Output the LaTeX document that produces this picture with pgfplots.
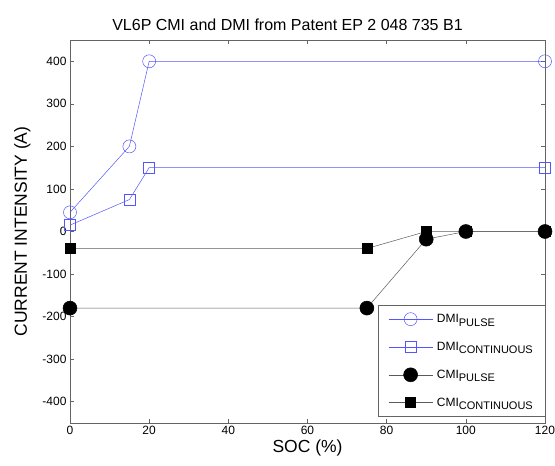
\documentclass[border=0pt]{standalone}
\usepackage{pgfplots}
\pgfplotsset{compat=1.18}
\usepackage{fontspec}
\setmainfont{Liberation Sans}
\definecolor{dmiblue}{RGB}{85,85,255}
\definecolor{axisgray}{RGB}{100,100,100}
\definecolor{cmiline}{RGB}{90,90,90}
% subscript set almost at full size and slightly lowered
\newcommand{\sub}[1]{\raisebox{-3.5pt}{\fontsize{11}{13}\selectfont #1}}

\begin{document}
\begin{tikzpicture}[x=1pt,y=1pt]
\begin{axis}[
  at={(0,0)}, anchor=south west,
  scale only axis, width=475pt, height=383pt,
  xmin=0, xmax=120, ymin=-450, ymax=450,
  xtick={0,20,...,120}, ytick={-400,-300,...,400},
  tick align=inside, major tick length=4pt,
  axis line style={axisgray, line width=0.6pt},
  tick style={axisgray, line width=0.5pt},
  ticklabel style={font=\fontsize{12}{14}\selectfont},
  /pgf/number format/assume math mode=true,
  title={VL6P CMI and DMI from Patent EP 2 048 735 B1},
  title style={font=\fontsize{16}{18}\selectfont, xshift=-20pt},
  xlabel={SOC (\%)}, ylabel={CURRENT INTENSITY (A)},
  label style={font=\fontsize{17.5}{20}\selectfont},
  xlabel style={yshift=2pt},
  ylabel style={yshift=5pt},
  legend cell align=left,
  legend style={at={(1,0.016)}, anchor=south east, draw=axisgray,
    font=\fontsize{12}{14}\selectfont, row sep=14pt,
    inner xsep=10pt, inner ysep=7pt,
    nodes={inner sep=2pt},
    /tikz/every odd column/.append style={column sep=2pt},
    /tikz/every even column/.append style={column sep=8pt}},
  legend image code/.code={
    \draw[mark repeat=2, mark phase=2, #1]
      plot coordinates {(0pt,0pt) (22pt,0pt) (44pt,0pt)};},
]
% discharge current, pulse
\addplot[dmiblue, line width=0.5pt, mark=o, mark size=6.5pt,
  mark options={fill=white}] coordinates {
  (0,45) (15,200) (20,400) (120,400)};
\addlegendentry{DMI\sub{PULSE}}
% discharge current, continuous
\addplot[dmiblue, line width=0.5pt, mark=square, mark size=5.5pt,
  mark options={fill=white}] coordinates {
  (0,15) (15,75) (20,150) (120,150)};
\addlegendentry{DMI\sub{CONTINUOUS}}
% charge current, pulse
\addplot[cmiline, line width=0.5pt, mark=*, mark size=7pt,
  mark options={black, fill=black}] coordinates {
  (0,-180) (75,-180) (90,-18) (100,0) (120,0)};
\addlegendentry{CMI\sub{PULSE}}
% charge current, continuous
\addplot[cmiline, line width=0.5pt, mark=square*, mark size=5pt,
  mark options={black, fill=black}] coordinates {
  (0,-40) (75,-40) (90,0) (100,0) (120,0)};
\addlegendentry{CMI\sub{CONTINUOUS}}
\end{axis}
\pgfresetboundingbox
\path[use as bounding box] (-70,-43) rectangle (485,423);
\end{tikzpicture}
\end{document}
